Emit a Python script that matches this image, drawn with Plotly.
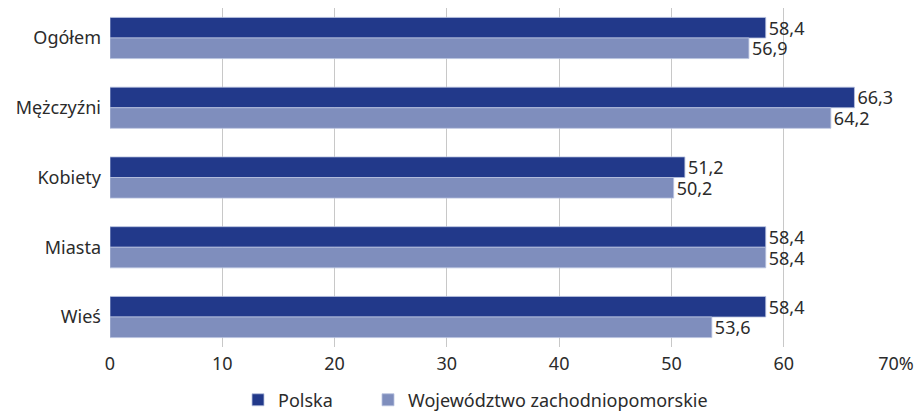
import plotly.graph_objects as go

categories = ["Ogółem", "Mężczyźni", "Kobiety", "Miasta", "Wieś"]
polska = [58.4, 66.3, 51.2, 58.4, 58.4]
zachodniopomorskie = [56.9, 64.2, 50.2, 58.4, 53.6]
series_names = ["Polska", "Województwo zachodniopomorskie"]
x_tickvals = [0, 10, 20, 30, 40, 50, 60, 70]
x_ticktext = ["0", "10", "20", "30", "40", "50", "60", "70%"]

FONT = "Noto Sans"
TXT = "#2b2b2b"
FS = 18

fig = go.Figure()
for name, vals, color, lg in [
    (series_names[0], polska, "#22398a", "legend"),
    (series_names[1], zachodniopomorskie, "#7f8ebd", "legend2"),
]:
    fig.add_trace(go.Bar(
        y=categories, x=vals, name=name, orientation="h", legend=lg,
        marker=dict(color=color, line=dict(color="#b9c3e0", width=0.8)),
        text=vals, texttemplate="%{x:.1f}", textposition="outside",
        constraintext="none",
        textfont=dict(family=FONT, size=FS, color=TXT),
        cliponaxis=False,
    ))

leg_common = dict(orientation="h", xref="container", xanchor="left",
                  yref="paper", y=-0.102, yanchor="top",
                  font=dict(family=FONT, size=FS, color=TXT),
                  itemwidth=30, bgcolor="rgba(0,0,0,0)")

fig.update_layout(
    width=916, height=414,
    margin=dict(l=110, r=20, t=8, b=67, autoexpand=False),
    paper_bgcolor="white", plot_bgcolor="white",
    barmode="group", bargap=0.41, bargroupgap=0,
    separators=", ",
    font=dict(family=FONT, size=FS, color=TXT),
    showlegend=True,
    legend=dict(x=238 / 916, **leg_common),
    legend2=dict(x=368 / 916, **leg_common),
    xaxis=dict(range=[0, 70], tickvals=x_tickvals, ticktext=x_ticktext,
               showgrid=True, gridcolor="#c8c8c8", gridwidth=1,
               zeroline=False, showline=False, ticks="",
               ticklabelstandoff=4, automargin=False,
               tickfont=dict(family=FONT, size=FS, color=TXT)),
    yaxis=dict(range=[4.43, -0.43], showgrid=False, zeroline=False,
               showline=False, ticks="", ticklabelstandoff=8,
               automargin=False,
               tickfont=dict(family=FONT, size=FS, color=TXT)),
)

fig.write_html("out.html", config={"displayModeBar": False},
               post_script="document.body.style.margin='0';document.body.style.overflow='hidden';")
